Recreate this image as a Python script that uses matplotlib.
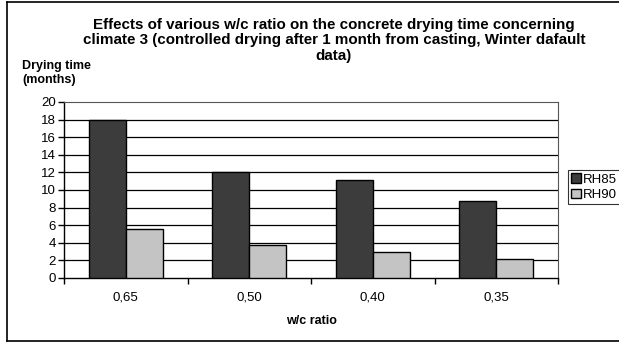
import numpy as np
import matplotlib.pyplot as plt
from matplotlib.lines import Line2D

plt.rcParams['font.family'] = ['Liberation Sans', 'DejaVu Sans']

# data
categories = ['0,65', '0,50', '0,40', '0,35']
rh85 = [18.0, 12.1, 11.1, 8.8]
rh90 = [5.6, 3.8, 3.0, 2.2]
series_names = ['RH85', 'RH90']
yticks = list(range(0, 21, 2))

fig = plt.figure(figsize=(6.19, 3.43), dpi=100)
ax = fig.add_axes([64 / 619, 1 - 278 / 343, (558 - 64) / 619, (278 - 102) / 343])

x = np.arange(len(categories))
w = 0.30
ax.bar(x - w / 2, rh85, w, color='#3c3c3c', edgecolor='black', linewidth=1.0,
       label=series_names[0], zorder=3)
ax.bar(x + w / 2, rh90, w, color='#c4c4c4', edgecolor='black', linewidth=1.0,
       label=series_names[1], zorder=3)

ax.set_xlim(-0.5, len(categories) - 0.5)
ax.set_ylim(0, 20)
ax.set_yticks(yticks)
ax.set_xticks(x)
ax.set_xticklabels(categories, fontsize=9.5)
ax.tick_params(axis='x', length=0, pad=10)
ax.tick_params(axis='y', labelsize=9.5, length=4, width=1, direction='out', pad=2)
# category boundary ticks
ax.set_xticks(np.arange(-0.5, len(categories)), minor=True)
ax.tick_params(axis='x', which='minor', length=4, width=1, direction='out')

for v in yticks[1:-1]:
    ax.axhline(v, color='black', linewidth=0.9, zorder=1)

for side in ['top', 'right']:
    ax.spines[side].set_linestyle((0, (1, 1)))
    ax.spines[side].set_color('#555555')
    ax.spines[side].set_linewidth(0.8)
ax.spines['left'].set_linewidth(1.0)
ax.spines['bottom'].set_linewidth(1.0)

ax.set_xlabel('w/c ratio', fontsize=9, fontweight='bold', labelpad=8)

fig.text(334 / 619, 1 - 18 / 343,
         'Effects of various w/c ratio on the concrete drying time concerning\n'
         'climate 3 (controlled drying after 1 month from casting, Winter dafault\n'
         'data)', ha='center', va='top', fontsize=10.9, fontweight='bold',
         linespacing=1.12)
fig.text(22 / 619, 1 - 73 / 343, 'Drying time\n(months)', ha='left', va='center',
         fontsize=9, fontweight='bold', linespacing=1.3)

leg = ax.legend(loc='upper left', bbox_to_anchor=(568 / 619, 1 - 170 / 343),
                bbox_transform=fig.transFigure, fontsize=9.5, frameon=True,
                fancybox=False, edgecolor='black', handlelength=0.7,
                handleheight=0.7, handletextpad=0.2, borderpad=0.25,
                labelspacing=0.25, borderaxespad=0)
leg.get_frame().set_linewidth(0.8)

# outer chart border
fig.add_artist(Line2D([7 / 619, 7 / 619], [2 / 343, 1 - 2 / 343], color='black', lw=1.2))
fig.add_artist(Line2D([7 / 619, 1], [1 - 2 / 343, 1 - 2 / 343], color='black', lw=1.2))
fig.add_artist(Line2D([7 / 619, 1], [2 / 343, 2 / 343], color='black', lw=1.2))

fig.savefig('out.png', dpi=100)
